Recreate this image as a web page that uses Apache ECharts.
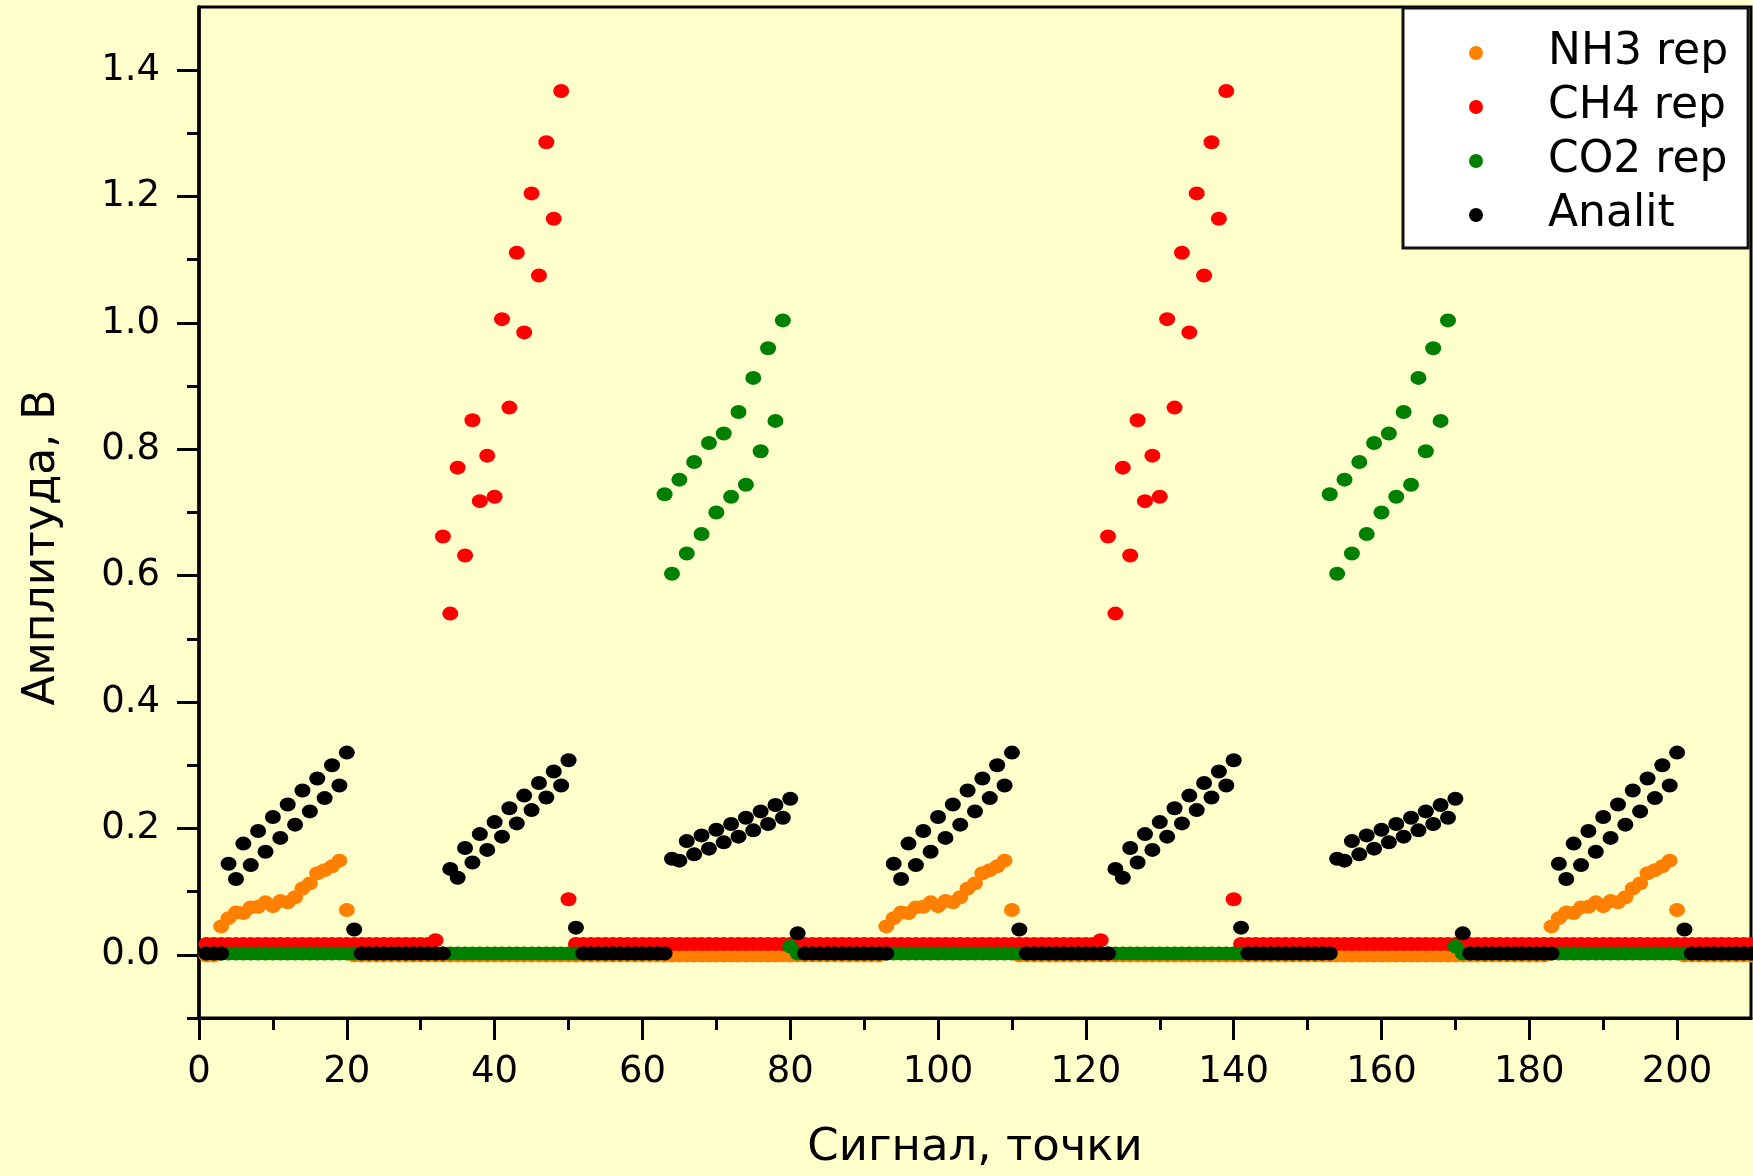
<!DOCTYPE html>
<html>
<head>
<meta charset="utf-8">
<title>Амплитуда сигнала</title>
<script src="https://cdn.jsdelivr.net/npm/echarts@6/dist/echarts.min.js"></script>
<style>
html, body { margin: 0; padding: 0; background: #ffffcc; }
#chart { width: 1753px; height: 1176px; }
</style>
</head>
<body>
<div id="chart"></div>
<script>
// точки 1..210, картина повторяется с шагом 90
var pointCount = 210;
var cycleStarts = [0, 90, 180];

// уровни "нулевой линии" каждого ряда
var nh3Base = -0.001;
var ch4Base = 0.017;
var co2Base = 0.002;
var analitBase = 0.002;

// NH3 rep: точки 3..20
var nh3Start = 3;
var nh3Peak = [0.045, 0.058, 0.067, 0.066, 0.075, 0.076, 0.083, 0.077, 0.085, 0.083,
    0.091, 0.105, 0.113, 0.129, 0.134, 0.140, 0.149, 0.071];

// CH4 rep: точки 32..50
var ch4Start = 32;
var ch4Peak = [0.023, 0.662, 0.540, 0.771, 0.632, 0.846, 0.718, 0.790, 0.725, 1.006,
    0.866, 1.111, 0.985, 1.205, 1.075, 1.286, 1.165, 1.367, 0.088];

// CO2 rep: точки 63..80
var co2Start = 63;
var co2Peak = [0.729, 0.603, 0.752, 0.635, 0.780, 0.666, 0.810, 0.700, 0.825, 0.725,
    0.859, 0.744, 0.913, 0.797, 0.960, 0.845, 1.004, 0.013];

// Analit: три группы, 4..21, 34..51, 64..81
var analitStarts = [4, 34, 64];
var analitPeak1 = [0.144, 0.120, 0.176, 0.142, 0.196, 0.163, 0.218, 0.185, 0.238, 0.206,
    0.260, 0.227, 0.279, 0.248, 0.300, 0.268, 0.320, 0.040];
var analitPeak2 = [0.136, 0.122, 0.169, 0.146, 0.191, 0.166, 0.210, 0.187, 0.232, 0.208,
    0.252, 0.229, 0.272, 0.249, 0.290, 0.268, 0.308, 0.043];
var analitPeak3 = [0.152, 0.149, 0.180, 0.159, 0.189, 0.168, 0.198, 0.178, 0.207, 0.187,
    0.217, 0.197, 0.227, 0.207, 0.237, 0.217, 0.247, 0.034];

// подписи осей
var xLabelValues = [0, 20, 40, 60, 80, 100, 120, 140, 160, 180, 200];
var xMinorValues = [10, 30, 50, 70, 90, 110, 130, 150, 170, 190];
var yLabelValues = [0, 0.2, 0.4, 0.6, 0.8, 1.0, 1.2, 1.4];
var yMinorValues = [-0.1, 0.1, 0.3, 0.5, 0.7, 0.9, 1.1, 1.3];

var fontName = "DejaVu Sans";

function buildSeries(base, segments) {
    var vals = {};
    for (var x = 1; x <= pointCount; x++) vals[x] = base;
    cycleStarts.forEach(function (c) {
        segments.forEach(function (seg) {
            seg.values.forEach(function (v, i) {
                var x = c + seg.start + i;
                if (x <= pointCount) vals[x] = v;
            });
        });
    });
    var out = [];
    for (var k = 1; k <= pointCount; k++) out.push([k, vals[k]]);
    return out;
}

var nh3Data = buildSeries(nh3Base, [{ start: nh3Start, values: nh3Peak }]);
var ch4Data = buildSeries(ch4Base, [{ start: ch4Start, values: ch4Peak }]);
var co2Data = buildSeries(co2Base, [{ start: co2Start, values: co2Peak }]);
var analitData = buildSeries(analitBase, [
    { start: analitStarts[0], values: analitPeak1 },
    { start: analitStarts[1], values: analitPeak2 },
    { start: analitStarts[2], values: analitPeak3 }
]);

var myChart = echarts.init(document.getElementById("chart"));

var lineBlack = { color: "#000", width: 3 };

function scatter(name, color, data) {
    return {
        name: name,
        type: "scatter",
        data: data,
        symbol: "circle",
        symbolSize: [16, 14],
        itemStyle: { color: color, opacity: 1 },
        xAxisIndex: 0,
        yAxisIndex: 0
    };
}

myChart.setOption({
    animation: false,
    backgroundColor: "#ffffcc",
    grid: {
        left: 199,
        right: 2,
        top: 7,
        bottom: 158,
        show: true,
        backgroundColor: "#ffffcc",
        borderColor: "#000",
        borderWidth: 3
    },
    legend: {
        left: 1403,
        top: 8,
        orient: "vertical",
        padding: [23, 20, 11, 66],
        itemGap: 10,
        itemWidth: 134,
        itemHeight: 14,
        backgroundColor: "#fff",
        borderColor: "#111",
        borderWidth: 3,
        borderRadius: 0,
        textStyle: {
            fontFamily: fontName,
            fontSize: 44,
            lineHeight: 44,
            color: "#000",
            padding: 0
        },
        data: ["NH3 rep", "CH4 rep", "CO2 rep", "Analit"]
    },
    xAxis: [
        {
            type: "value",
            min: 0,
            max: 210,
            position: "bottom",
            name: "Сигнал, точки",
            nameLocation: "middle",
            nameGap: 108,
            nameTextStyle: { fontFamily: fontName, fontSize: 45, color: "#000" },
            axisLine: { show: true, onZero: false, lineStyle: lineBlack },
            axisTick: { show: true, inside: false, length: 22, customValues: xLabelValues, lineStyle: lineBlack },
            axisLabel: { customValues: xLabelValues, margin: 36, fontFamily: fontName, fontSize: 37, color: "#000" },
            splitLine: { show: false }
        },
        {
            type: "value",
            min: 0,
            max: 210,
            position: "bottom",
            axisLine: { show: false, onZero: false },
            axisTick: { show: true, inside: false, length: 12, customValues: xMinorValues, lineStyle: lineBlack },
            axisLabel: { show: false },
            splitLine: { show: false }
        }
    ],
    yAxis: [
        {
            type: "value",
            min: -0.1,
            max: 1.5,
            position: "left",
            name: "Амплитуда, В",
            nameLocation: "middle",
            nameGap: 134,
            nameTextStyle: { fontFamily: fontName, fontSize: 44, color: "#000", padding: [0, 70, 0, 0] },
            axisLine: { show: true, onZero: false, lineStyle: { color: "#000", width: 3.5 } },
            axisTick: { show: true, inside: false, length: 22, customValues: yLabelValues, lineStyle: lineBlack },
            axisLabel: {
                customValues: yLabelValues,
                margin: 39,
                fontFamily: fontName,
                fontSize: 37,
                color: "#000",
                formatter: function (v) { return v.toFixed(1); }
            },
            splitLine: { show: false }
        },
        {
            type: "value",
            min: -0.1,
            max: 1.5,
            position: "left",
            axisLine: { show: false, onZero: false },
            axisTick: { show: true, inside: false, length: 12, customValues: yMinorValues, lineStyle: lineBlack },
            axisLabel: { show: false },
            splitLine: { show: false }
        }
    ],
    series: [
        scatter("NH3 rep", "#ff8000", nh3Data),
        scatter("CH4 rep", "#ff0000", ch4Data),
        scatter("CO2 rep", "#008000", co2Data),
        scatter("Analit", "#000000", analitData)
    ]
});
</script>
</body>
</html>
